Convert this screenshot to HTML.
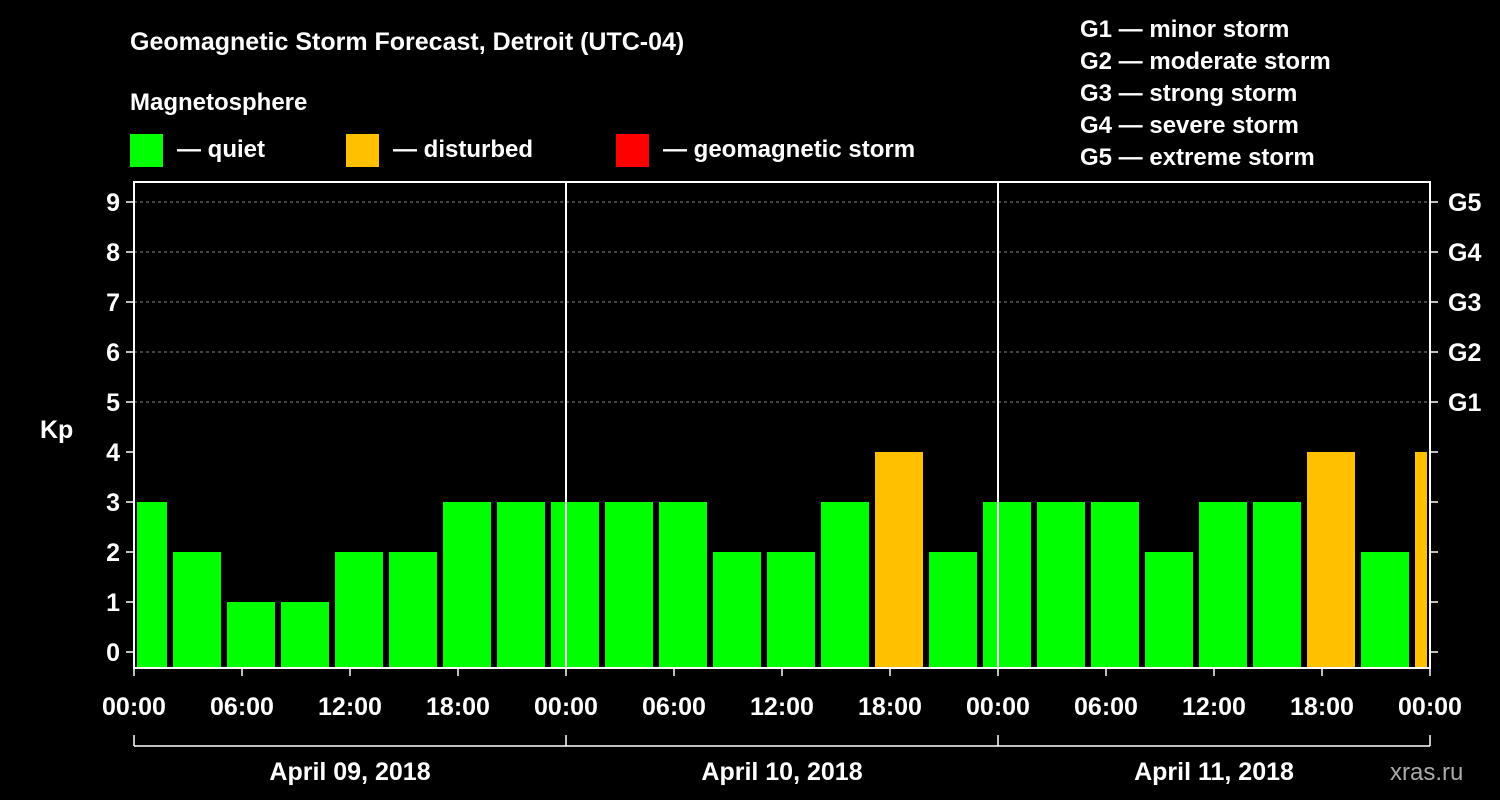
<!DOCTYPE html>
<html><head><meta charset="utf-8"><style>
html,body{margin:0;padding:0;background:#000;}
svg{display:block;font-family:"Liberation Sans",Arial,sans-serif;font-weight:bold;}
</style></head><body>
<svg id="chart" width="1500" height="800" viewBox="0 0 1500 800">
<rect x="0" y="0" width="1500" height="800" fill="#000"/>
<text x="130" y="50" fill="#fff" font-size="25">Geomagnetic Storm Forecast, Detroit (UTC-04)</text>
<text x="130" y="110" fill="#fff" font-size="24">Magnetosphere</text>
<g><rect x="130" y="134" width="33" height="33" fill="#00ff00"/><text x="177" y="157" fill="#fff" font-size="24">— quiet</text></g>
<g><rect x="346" y="134" width="33" height="33" fill="#ffc000"/><text x="393" y="157" fill="#fff" font-size="24">— disturbed</text></g>
<g><rect x="616" y="134" width="33" height="33" fill="#ff0000"/><text x="663" y="157" fill="#fff" font-size="24">— geomagnetic storm</text></g>
<g fill="#fff" font-size="24">
<text x="1080" y="37">G1 — minor storm</text>
<text x="1080" y="69">G2 — moderate storm</text>
<text x="1080" y="101">G3 — strong storm</text>
<text x="1080" y="133">G4 — severe storm</text>
<text x="1080" y="165">G5 — extreme storm</text>
</g>
<text x="40" y="438" fill="#fff" font-size="25">Kp</text>
<text x="1390" y="780" fill="#aaa" font-size="24" font-weight="normal">xras.ru</text>
<g id="plot"></g>
</svg>
<script>
const kpValues=[3,2,1,1,2,2,3,3,3,3,3,2,2,3,4,2,3,3,3,2,3,3,4,2,4];
const xTickLabels=["00:00","06:00","12:00","18:00","00:00","06:00","12:00","18:00","00:00","06:00","12:00","18:00","00:00"];
const dayLabels=["April 09, 2018","April 10, 2018","April 11, 2018"];
const gLabels=["G1","G2","G3","G4","G5"];
const NS="http://www.w3.org/2000/svg";
const g=document.getElementById('plot');
const L=134,R=1430,T=182,B=668,totalH=72;
const xs=h=>L+(R-L)*h/totalH;
const ys=k=>652-50*k;
function mk(t,a,parent){const e=document.createElementNS(NS,t);for(const k in a)e.setAttribute(k,a[k]);(parent||g).appendChild(e);return e;}
// bars: first partial slot 0-2h, then 3h slots
kpValues.forEach((v,i)=>{
  const h0=i===0?0:2+3*(i-1);
  const h1=Math.min(i===0?2:h0+3,totalH);
  const col=v>=5?"#ff0000":(v>=4?"#ffc000":"#00ff00");
  const r=mk('rect',{x:xs(h0)+3,y:ys(v),width:xs(h1)-xs(h0)-6,height:B-ys(v),fill:col});
  
  
});
// dashed grid
for(let k=5;k<=9;k++){
  const l=mk('line',{x1:L,x2:R,y1:ys(k),y2:ys(k),stroke:"#888","stroke-dasharray":"3,3","stroke-width":1});
  
  
  const t=mk('text',{x:1448,y:ys(k)+9,fill:"#fff","font-size":25});
  t.textContent=gLabels[k-5];
  
  
}
// frame
const fr=mk('rect',{x:L,y:T,width:R-L,height:B-T,fill:"none",stroke:"#fff","stroke-width":2});


// day separators
[24,48].forEach(h=>{const l=mk('line',{x1:xs(h),x2:xs(h),y1:T,y2:B,stroke:"#fff","stroke-width":2});
});
// y ticks & labels
for(let k=0;k<=9;k++){
  mk('line',{x1:L-8,x2:L,y1:ys(k),y2:ys(k),stroke:"#fff","stroke-width":1.5});
  mk('line',{x1:R,x2:R+8,y1:ys(k),y2:ys(k),stroke:"#fff","stroke-width":1.5});
  const t=mk('text',{x:L-14,y:ys(k)+9,fill:"#fff","font-size":25,"text-anchor":"end"});
  t.textContent=k;
  
  
}
// x ticks
xTickLabels.forEach((s,i)=>{
  const x=xs(i*6);
  mk('line',{x1:x,x2:x,y1:B,y2:B+8,stroke:"#fff","stroke-width":1.5});
  const t=mk('text',{x:x,y:715,fill:"#fff","font-size":25,"text-anchor":"middle"});
  t.textContent=s;
  
  
});
// date bracket
mk('line',{x1:L,x2:R,y1:746,y2:746,stroke:"#fff","stroke-width":1.5});
[0,24,48,72].forEach(h=>mk('line',{x1:xs(h),x2:xs(h),y1:735,y2:746,stroke:"#fff","stroke-width":1.5}));
dayLabels.forEach((s,i)=>{
  const t=mk('text',{x:xs(i*24+12),y:780,fill:"#fff","font-size":25,"text-anchor":"middle"});
  t.textContent=s;
  
  
});
</script>
</body></html>
